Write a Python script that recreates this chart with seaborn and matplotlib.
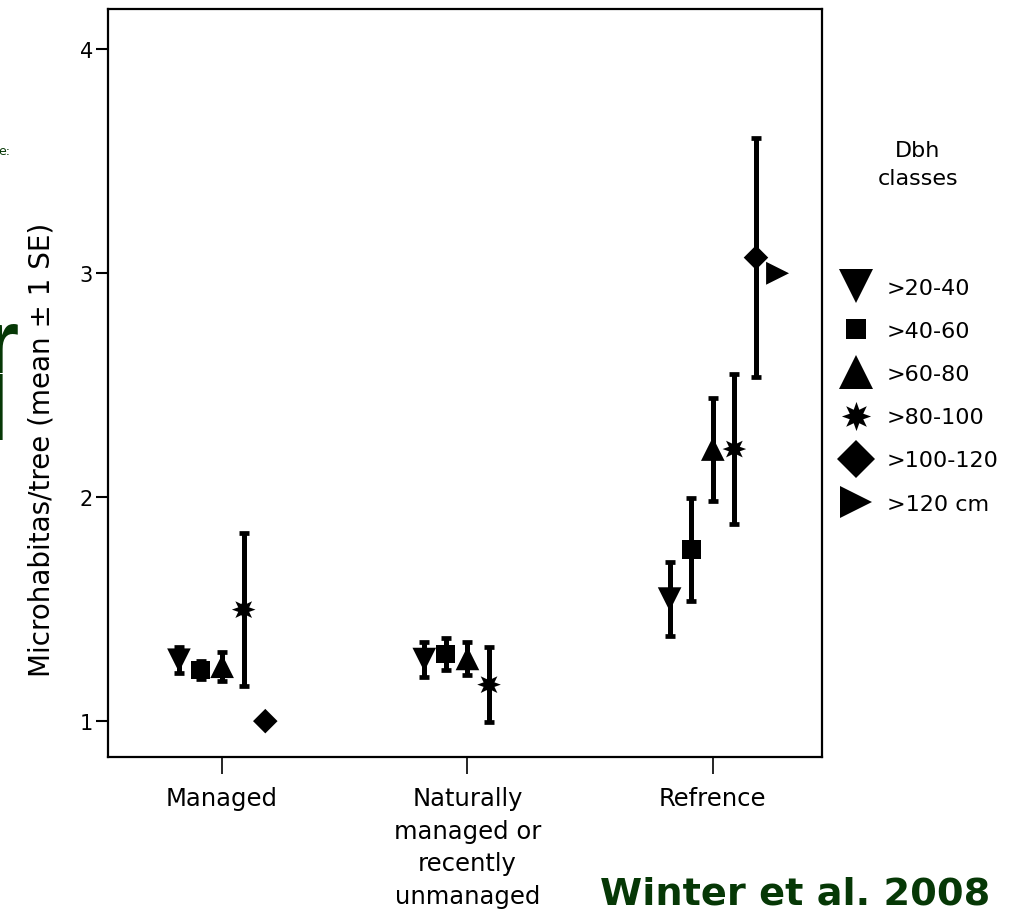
import numpy as np
import pandas as pd
import matplotlib
matplotlib.use("Agg")
import matplotlib.pyplot as plt
import seaborn as sns
from matplotlib.lines import Line2D

# ---------------- data ----------------
groups = ["Managed", "Naturally\nmanaged or\nrecently\nunmanaged", "Refrence"]
dbh_classes = [">20-40", ">40-60", ">60-80", ">80-100", ">100-120", ">120 cm"]

mean_20_40 = [1.272, 1.275, 1.545]
se_20_40 = [0.058, 0.078, 0.165]
mean_40_60 = [1.228, 1.300, 1.765]
se_40_60 = [0.040, 0.070, 0.230]
mean_60_80 = [1.245, 1.280, 2.215]
se_60_80 = [0.064, 0.074, 0.230]
mean_80_100 = [1.498, 1.163, 2.215]
se_80_100 = [0.342, 0.167, 0.335]
mean_100_120 = [1.000, np.nan, 3.070]
se_100_120 = [0.000, np.nan, 0.535]
mean_120 = [np.nan, np.nan, 3.000]
se_120 = [np.nan, np.nan, 0.000]

y_ticks = [1, 2, 3, 4]

means = [mean_20_40, mean_40_60, mean_60_80, mean_80_100, mean_100_120, mean_120]
ses = [se_20_40, se_40_60, se_60_80, se_80_100, se_100_120, se_120]

# ---------------- style ----------------
sns.set_style("ticks")
plt.rcParams["font.family"] = ["DejaVu Sans"]
for key in ["text.color", "axes.labelcolor", "xtick.color", "ytick.color",
            "axes.edgecolor"]:
    plt.rcParams[key] = "black"

marker_map = {">20-40": "v", ">40-60": "s", ">60-80": "^",
              ">80-100": (8, 1, 0), ">100-120": "D", ">120 cm": ">"}
plot_ms = {">20-40": 17, ">40-60": 13.5, ">60-80": 17,
           ">80-100": 17, ">100-120": 12.5, ">120 cm": 16.5}
legend_ms = {">20-40": 25, ">40-60": 14, ">60-80": 25,
             ">80-100": 21, ">100-120": 19, ">120 cm": 23}
step = 0.088

rows = []
for ci, cls in enumerate(dbh_classes):
    for gi, g in enumerate(groups):
        m = means[ci][gi]
        if np.isnan(m):
            continue
        rows.append({"group": g, "Dbh": cls, "x": gi + (ci - 2) * step,
                     "mean": m, "se": ses[ci][gi]})
df = pd.DataFrame(rows)

fig = plt.figure(figsize=(10.24, 9.12), dpi=100)
ax = fig.add_axes([0.1055, 0.1689, 0.8027 - 0.1055, 0.989 - 0.1689])

eb = df[df["se"] > 0]
ax.errorbar(eb["x"], eb["mean"], yerr=eb["se"], fmt="none", ecolor="black",
            elinewidth=3.6, capsize=3.3, capthick=3.4, zorder=2)

sns.scatterplot(data=df, x="x", y="mean", style="Dbh", markers=marker_map,
                size="Dbh", sizes={k: v ** 2 for k, v in plot_ms.items()},
                style_order=dbh_classes, size_order=dbh_classes,
                color="black", edgecolor="black", linewidth=0,
                legend=False, ax=ax, zorder=3)

ax.set_xlim(-0.465, 2.445)
ax.set_ylim(0.84, 4.18)
ax.set_xticks(range(len(groups)))
ax.set_xticklabels(groups, fontsize=17.5, linespacing=1.45)
ax.set_yticks(y_ticks)
ax.set_yticklabels([str(t) for t in y_ticks], fontsize=15)
ax.set_xlabel("")
ax.set_ylabel("Microhabitas/tree (mean \u00b1 1 SE)", fontsize=20)
ax.yaxis.set_label_coords(-0.073, 0.412)

for sp in ax.spines.values():
    sp.set_visible(True)
    sp.set_color("black")
    sp.set_linewidth(1.6)
ax.tick_params(axis="x", length=12, width=1.2, pad=9, direction="out")
ax.tick_params(axis="y", length=9, width=1.5, pad=2, direction="out")

handles = [Line2D([], [], linestyle="none", marker=marker_map[c], color="black",
                  markeredgewidth=0, markersize=legend_ms[c]) for c in dbh_classes]
fig.legend(handles, dbh_classes, loc="upper left",
           bbox_to_anchor=(838 / 1024, 1 - 279 / 912), frameon=False,
           fontsize=16, handlelength=1.6, handletextpad=0.6,
           labelspacing=1.04, borderpad=0, borderaxespad=0)
fig.text(918 / 1024, 1 - 165 / 912, "Dbh\nclasses", ha="center", va="center",
         fontsize=16, linespacing=1.45)

green = "#063806"
fig.text(600 / 1024, 1 - 905 / 912, "Winter et al. 2008", ha="left",
         va="baseline", fontsize=27.5, fontweight="bold", color=green)
# slide text fragments cut by the picture edge
fig.text(19 / 1024, 1 - 440 / 912, "r\nl", ha="right", va="baseline",
         multialignment="left", fontsize=65, linespacing=0.72,
         family=["Liberation Sans"], fontweight="semibold", color=green)
fig.text(10 / 1024, 1 - 155 / 912, "e:", ha="right", va="baseline",
         fontsize=9, color=green)
fig.text(1021 / 1024, 1 - 385 / 912, "I", ha="left", va="baseline",
         fontsize=42, fontweight="bold", color=green)
fig.text(1021 / 1024, 1 - 13 / 912, "I", ha="left", va="baseline",
         fontsize=42, fontweight="bold", color=green)

fig.savefig("out.png", dpi=100)
